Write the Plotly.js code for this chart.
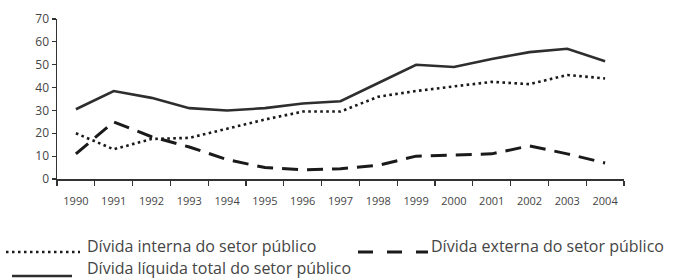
<!DOCTYPE html>
<html>
<head>
<meta charset="utf-8">
<script src="https://cdn.plot.ly/plotly-3.0.1.min.js"></script>
<style>
  html, body { margin: 0; padding: 0; background: #fff; }
  #chart { width: 681px; height: 279px; }
</style>
</head>
<body>
<div id="chart"></div>
<script>
// ---- data ----
const years = ['1990','1991','1992','1993','1994','1995','1996','1997','1998','1999','2000','2001','2002','2003','2004'];
const dividaInterna = [20, 13, 17.5, 18, 22, 26, 29.5, 29.5, 36, 38.5, 40.5, 42.5, 41.5, 45.5, 44];
const dividaExterna = [11, 25, 18.5, 14, 8.5, 5, 4, 4.5, 6, 10, 10.5, 11, 14.5, 11, 7];
const dividaTotal   = [30.5, 38.5, 35.5, 31, 30, 31, 33, 34, 42, 50, 49, 52.5, 55.5, 57, 51.5];
const seriesNames = ['Dívida interna do setor público', 'Dívida externa do setor público', 'Dívida líquida total do setor público'];

const FONT = '"Open Sans", "Noto Sans", sans-serif';
const TXT = '#454545';

const traces = [
  { x: years, y: dividaTotal, type: 'scatter', mode: 'lines', name: seriesNames[2],
    line: { color: '#2e2e2e', width: 2.6 }, showlegend: false, hoverinfo: 'skip' },
  { x: years, y: dividaInterna, type: 'scatter', mode: 'lines', name: seriesNames[0],
    line: { color: '#1a1a1a', width: 2.6, dash: '2.6px,3.4px' }, showlegend: false, hoverinfo: 'skip' },
  { x: years, y: dividaExterna, type: 'scatter', mode: 'lines', name: seriesNames[1],
    line: { color: '#1a1a1a', width: 3, dash: '16px,9px' }, showlegend: false, hoverinfo: 'skip' }
];

// legend geometry helpers (pixels -> paper), plot area l=57, t=19, w=567, h=160
const L = 57, T = 19, W = 567, H = 160;
const px = v => (v - L) / W;
const py = v => (T + H - v) / H;

const shapes = [
  { type: 'line', xref: 'paper', yref: 'paper', x0: px(6), x1: px(80), y0: py(252), y1: py(252),
    line: { color: '#1a1a1a', width: 2.5, dash: '2.5px,3.5px' } },
  { type: 'line', xref: 'paper', yref: 'paper', x0: px(358), x1: px(428), y0: py(252), y1: py(252),
    line: { color: '#1a1a1a', width: 3, dash: '15px,14px' } },
  { type: 'line', xref: 'paper', yref: 'paper', x0: px(12), x1: px(72), y0: py(276), y1: py(276),
    line: { color: '#2e2e2e', width: 2.6 } }
];

const annotations = [
  { xref: 'paper', yref: 'paper', x: px(85), y: py(246), xanchor: 'left', yanchor: 'middle',
    text: seriesNames[0], showarrow: false, font: { family: FONT, size: 16, color: TXT } },
  { xref: 'paper', yref: 'paper', x: px(429), y: py(246), xanchor: 'left', yanchor: 'middle',
    text: seriesNames[1], showarrow: false, font: { family: FONT, size: 16, color: TXT } },
  { xref: 'paper', yref: 'paper', x: px(85), y: py(267.5), xanchor: 'left', yanchor: 'middle',
    text: seriesNames[2], showarrow: false, font: { family: FONT, size: 16, color: TXT } }
];

const layout = {
  width: 681, height: 279,
  margin: { l: L, r: 681 - L - W, t: T, b: 279 - T - H, pad: 0 },
  paper_bgcolor: '#fff', plot_bgcolor: '#fff',
  font: { family: FONT, color: TXT },
  showlegend: false,
  xaxis: {
    type: 'category', range: [-0.5, 14.5],
    showline: true, linecolor: '#333', linewidth: 1.5,
    ticks: 'outside', tickson: 'boundaries', ticklen: 5, tickwidth: 1.2, tickcolor: '#333',
    showgrid: false, zeroline: false,
    tickfont: { family: FONT, size: 11, color: TXT },
    ticklabelstandoff: 11
  },
  yaxis: {
    range: [0, 70], dtick: 10, tick0: 0,
    showline: true, linecolor: '#333', linewidth: 1.5,
    ticks: 'outside', ticklen: 4, tickwidth: 1.2, tickcolor: '#333',
    showgrid: false, zeroline: false,
    tickfont: { family: FONT, size: 12, color: TXT }
  },
  shapes: shapes,
  annotations: annotations
};

Plotly.newPlot('chart', traces, layout, { displayModeBar: false, staticPlot: true });
</script>
</body>
</html>
